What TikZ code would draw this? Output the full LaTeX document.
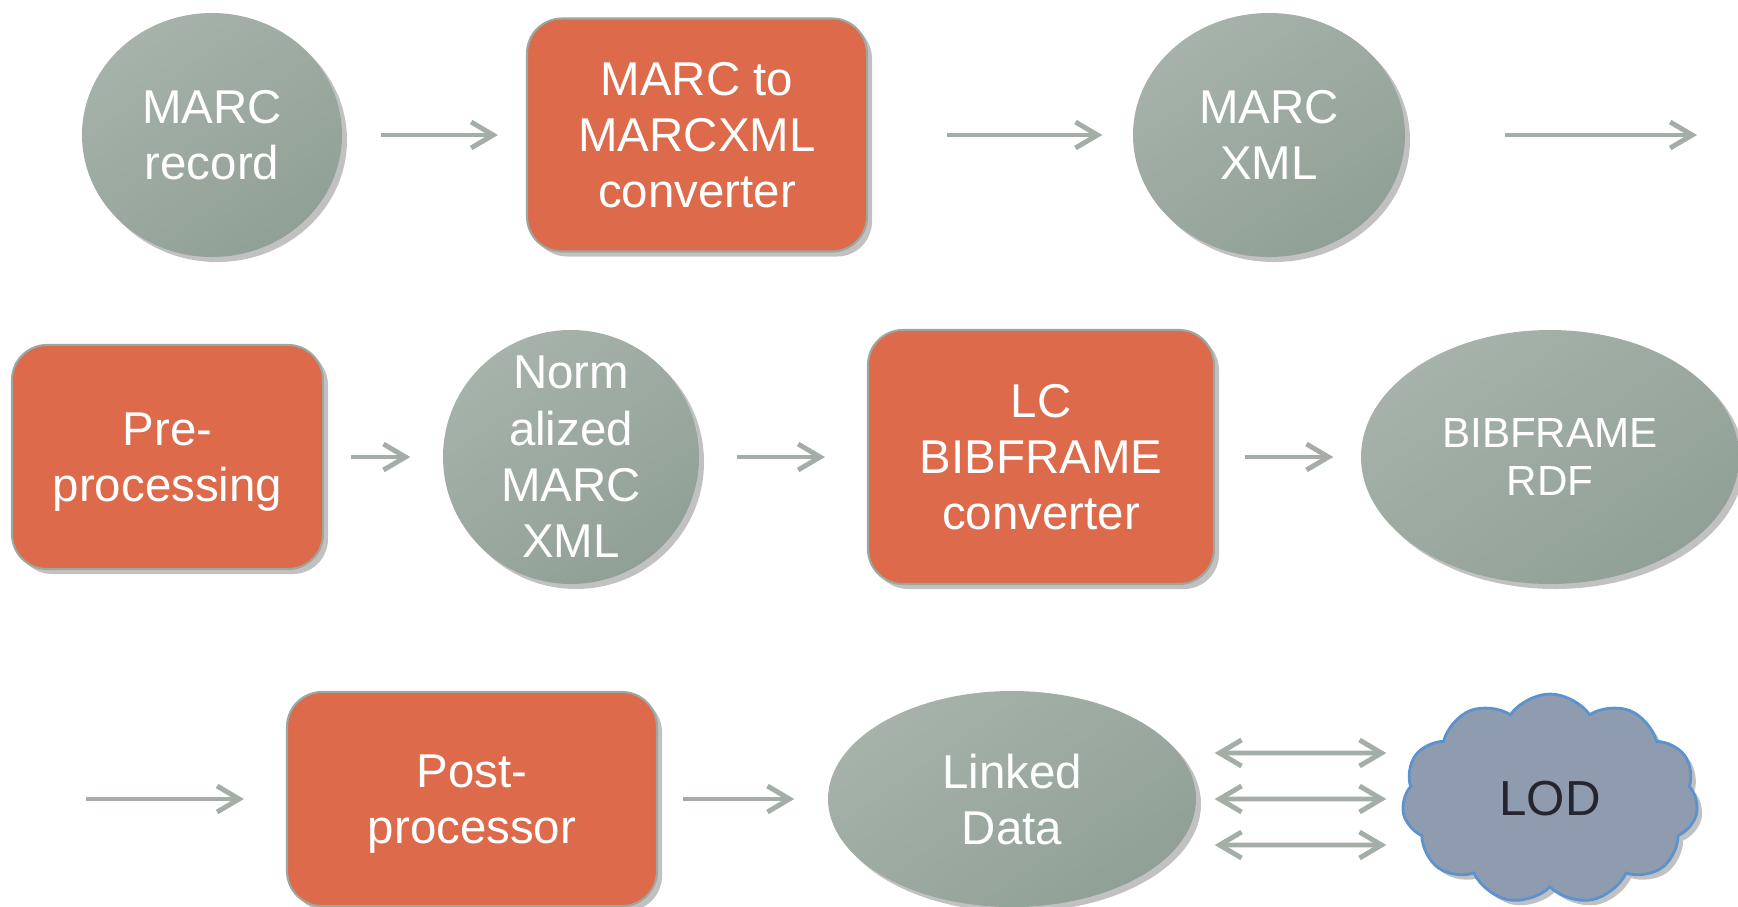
\documentclass[tikz,border=0pt]{standalone}
\usepackage{fontspec}
\setmainfont{Liberation Sans}
\usetikzlibrary{shapes.geometric}
\usetikzlibrary{shapes.symbols}
\usetikzlibrary{shadows}
\usetikzlibrary{arrows.meta}
\definecolor{blobgrey}{HTML}{A6B2AA}
\definecolor{blobdark}{HTML}{91A096}
\definecolor{boxorange}{HTML}{DC6A4B}
\definecolor{boxrim}{HTML}{9CA89F}
\definecolor{arrowgrey}{HTML}{A4AEA7}
\definecolor{cloudfill}{HTML}{8F9CAF}
\definecolor{cloudrim}{HTML}{5D92CC}
\definecolor{lodtext}{HTML}{252530}
\tikzset{
  softshadow/.style={drop shadow={shadow xshift=0.5mm,shadow yshift=-0.5mm,opacity=0.3,fill=black!80}},
  datablob/.style={ellipse, inner sep=0pt, softshadow, top color=blobgrey, middle color=blobgrey,
    bottom color=blobdark, shading angle=35, text=white, align=center, text depth=0pt,
    font=\fontsize{13.5}{16}\selectfont},
  toolbox/.style={rectangle, rounded corners=0.35cm, softshadow, fill=boxorange, draw=boxrim,
    line width=0.6pt, text=white, align=center, text depth=0pt, font=\fontsize{13.5}{16}\selectfont},
  flow/.style={draw=arrowgrey, line width=1.4pt, -{Straight Barb[length=2.2mm,width=2.6mm]}},
  twoway/.style={draw=arrowgrey, line width=1.4pt,
    {Straight Barb[length=2.2mm,width=2.6mm]}-{Straight Barb[length=2.2mm,width=2.6mm]}}
}

\begin{document}
\begin{tikzpicture}
\useasboundingbox (0,0) rectangle (17.38,-9.06);
% row 1
\node[datablob, minimum width=2.6cm, minimum height=2.44cm] (rec) at (2.12,-1.35) {MARC\\record};
\node[toolbox, minimum width=3.4cm, minimum height=2.33cm] (m2x) at (6.97,-1.35) {MARC to\\MARCXML\\converter};
\node[datablob, minimum width=2.72cm, minimum height=2.44cm] (mxml) at (12.69,-1.35) {MARC\\XML};
\coordinate (out1) at (16.97,-1.35);
\draw[flow, shorten <=3.8mm, shorten >=2.8mm] (rec.east) -- (m2x.west);
\draw[flow, shorten <=7.9mm, shorten >=3mm] (m2x.east) -- (mxml.west);
\draw[flow, shorten <=9.9mm] (mxml.east) -- (out1);
% row 2
\node[toolbox, minimum width=3.11cm, minimum height=2.24cm] (pre) at (1.675,-4.57) {Pre-\\processing};
\node[datablob, minimum width=2.56cm, minimum height=2.54cm, inner ysep=-2.5mm] (norm) at (5.71,-4.57) {Norm\\alized\\MARC\\XML};
\node[toolbox, minimum width=3.46cm, minimum height=2.54cm] (lcbf) at (10.41,-4.57) {LC\\BIBFRAME\\converter};
\node[datablob, minimum width=3.78cm, minimum height=2.54cm, font=\fontsize{12}{13.7}\selectfont] (bfrdf) at (15.5,-4.57) {BIBFRAME\\RDF};
\draw[flow, shorten <=2.7mm, shorten >=3.2mm] (pre.east) -- (norm.west);
\draw[flow, shorten <=3.7mm, shorten >=4.2mm] (norm.east) -- (lcbf.west);
\draw[flow, shorten <=3mm, shorten >=2.7mm] (lcbf.east) -- (bfrdf.west);
% row 3
\coordinate (in3) at (0.86,-7.99);
\node[toolbox, minimum width=3.7cm, minimum height=2.14cm] (post) at (4.72,-7.99) {Post-\\processor};
\node[datablob, minimum width=3.68cm, minimum height=2.16cm] (ld) at (10.12,-7.99) {Linked\\Data};
\node[cloud, cloud puffs=11, cloud puff arc=110, aspect=1.45, minimum width=2.96cm, minimum height=2.1cm,
  fill=cloudfill, draw=cloudrim, line width=0.8pt, softshadow, text=lodtext,
  font=\fontsize{14}{16}\selectfont] (lod) at (15.5,-7.99) {LOD};
\draw[flow, shorten >=4.2mm] (in3) -- (post.west);
\draw[flow, shorten <=2.5mm, shorten >=3.3mm] (post.east) -- (ld.west);
\foreach \dy in {0.46,0,-0.46}
  \draw[twoway, shorten <=1.8mm, shorten >=1.6mm] ([yshift=\dy cm]ld.east) -- ([yshift=\dy cm]lod.west);
\end{tikzpicture}
\end{document}
